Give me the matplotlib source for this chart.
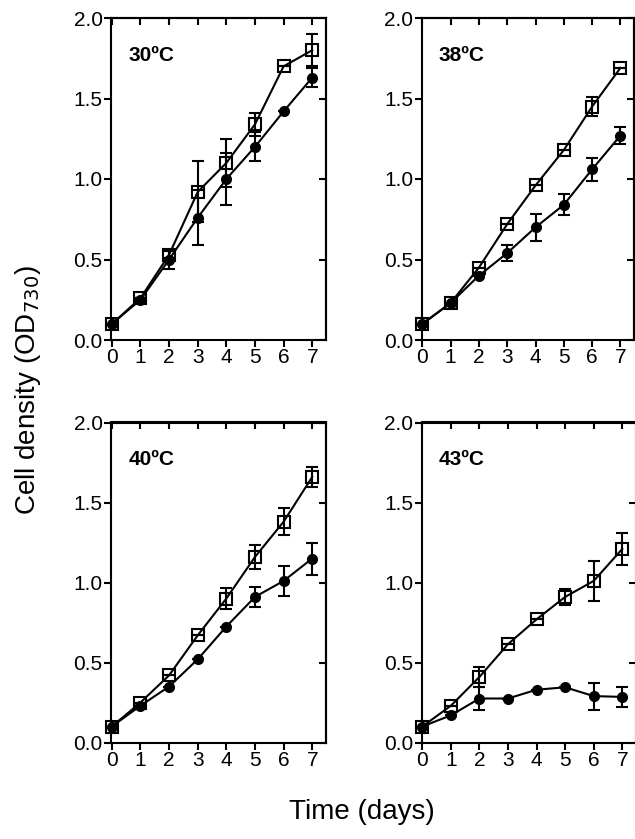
import matplotlib
matplotlib.use("Agg")
import matplotlib.pyplot as plt

plt.rcParams['font.family'] = ['Liberation Sans', 'DejaVu Sans']

days = [0, 1, 2, 3, 4, 5, 6, 7]
panel_titles = ["30ºC", "38ºC", "40ºC", "43ºC"]
y_ticks = [0.0, 0.5, 1.0, 1.5, 2.0]
y_tick_labels = ["0.0", "0.5", "1.0", "1.5", "2.0"]

# open squares / filled circles, mean and error
sq_30 = [0.10, 0.26, 0.53, 0.92, 1.10, 1.34, 1.70, 1.80]
sq_30_err = [0.0, 0.0, 0.02, 0.19, 0.15, 0.07, 0.0, 0.10]
ci_30 = [0.10, 0.25, 0.50, 0.76, 1.00, 1.20, 1.42, 1.63]
ci_30_err = [0.0, 0.0, 0.06, 0.17, 0.16, 0.09, 0.0, 0.06]

sq_38 = [0.10, 0.23, 0.45, 0.72, 0.96, 1.18, 1.45, 1.69]
sq_38_err = [0.0, 0.0, 0.0, 0.0, 0.0, 0.0, 0.06, 0.0]
ci_38 = [0.10, 0.23, 0.40, 0.54, 0.70, 0.84, 1.06, 1.27]
ci_38_err = [0.0, 0.0, 0.0, 0.05, 0.085, 0.065, 0.07, 0.05]

sq_40 = [0.10, 0.25, 0.42, 0.67, 0.90, 1.16, 1.38, 1.66]
sq_40_err = [0.0, 0.0, 0.0, 0.0, 0.065, 0.075, 0.085, 0.06]
ci_40 = [0.10, 0.23, 0.35, 0.52, 0.725, 0.91, 1.01, 1.15]
ci_40_err = [0.0, 0.0, 0.0, 0.0, 0.0, 0.06, 0.095, 0.10]

sq_43 = [0.10, 0.23, 0.41, 0.615, 0.77, 0.91, 1.01, 1.21]
sq_43_err = [0.0, 0.0, 0.06, 0.0, 0.0, 0.05, 0.125, 0.10]
ci_43 = [0.10, 0.17, 0.275, 0.275, 0.33, 0.345, 0.29, 0.285]
ci_43_err = [0.0, 0.0, 0.07, 0.0, 0.0, 0.0, 0.085, 0.065]

squares = [sq_30, sq_38, sq_40, sq_43]
squares_err = [sq_30_err, sq_38_err, sq_40_err, sq_43_err]
circles = [ci_30, ci_38, ci_40, ci_43]
circles_err = [ci_30_err, ci_38_err, ci_40_err, ci_43_err]

W, H = 635, 839
fig = plt.figure(figsize=(W / 100, H / 100), dpi=100)

# axes boxes in pixels: (left, top, right, bottom)
boxes = [(111, 18, 326, 340), (421.5, 18, 634, 340),
         (111, 422.5, 326, 742.5), (421.5, 422.5, 636, 742.5)]

for i, (l, t, r, b) in enumerate(boxes):
    ax = fig.add_axes([l / W, 1 - b / H, (r - l) / W, (b - t) / H])
    ax.errorbar(days, circles[i], yerr=circles_err[i], color='black',
                marker='o', markersize=7, lw=1.5, elinewidth=1.5,
                capsize=4.5, capthick=1.5, clip_on=False, zorder=3)
    ax.errorbar(days, squares[i], yerr=squares_err[i], color='black',
                marker='s', markersize=8, markerfacecolor='none',
                markeredgewidth=1.5, lw=1.5, elinewidth=1.5,
                capsize=4.5, capthick=1.5, clip_on=False, zorder=4)
    ax.set_xlim(-0.03, 7.48)
    ax.set_ylim(0, 2.0)
    ax.set_xticks(days)
    ax.set_yticks(y_ticks)
    ax.set_yticklabels(y_tick_labels)
    for s in ax.spines.values():
        s.set_linewidth(1.5)
    ax.tick_params(axis='both', labelsize=15, width=1.5, length=5,
                   direction='out', pad=1)
    # mirrored ticks pointing inward on top/right
    ax2 = ax.secondary_xaxis('top')
    ax2.set_xticks(days)
    ax2.tick_params(direction='in', length=5, width=1.5)
    ax2.set_xticklabels([])
    ax2.spines['top'].set_linewidth(1.5)
    ax3 = ax.secondary_yaxis('right')
    ax3.set_yticks(y_ticks)
    ax3.tick_params(direction='in', length=5, width=1.5)
    ax3.set_yticklabels([])
    ax3.spines['right'].set_linewidth(1.5)
    ax.text(0.08, 0.885, panel_titles[i], transform=ax.transAxes,
            fontsize=15, fontweight='bold', ha='left', va='center')

fig.text(28 / W, 1 - 390 / H, "Cell density (OD$_{730}$)", rotation=90,
         ha='center', va='center', fontsize=20)
fig.text(362 / W, 1 - 812 / H, "Time (days)", ha='center', va='center',
         fontsize=20)

fig.savefig("out.png", dpi=100)
